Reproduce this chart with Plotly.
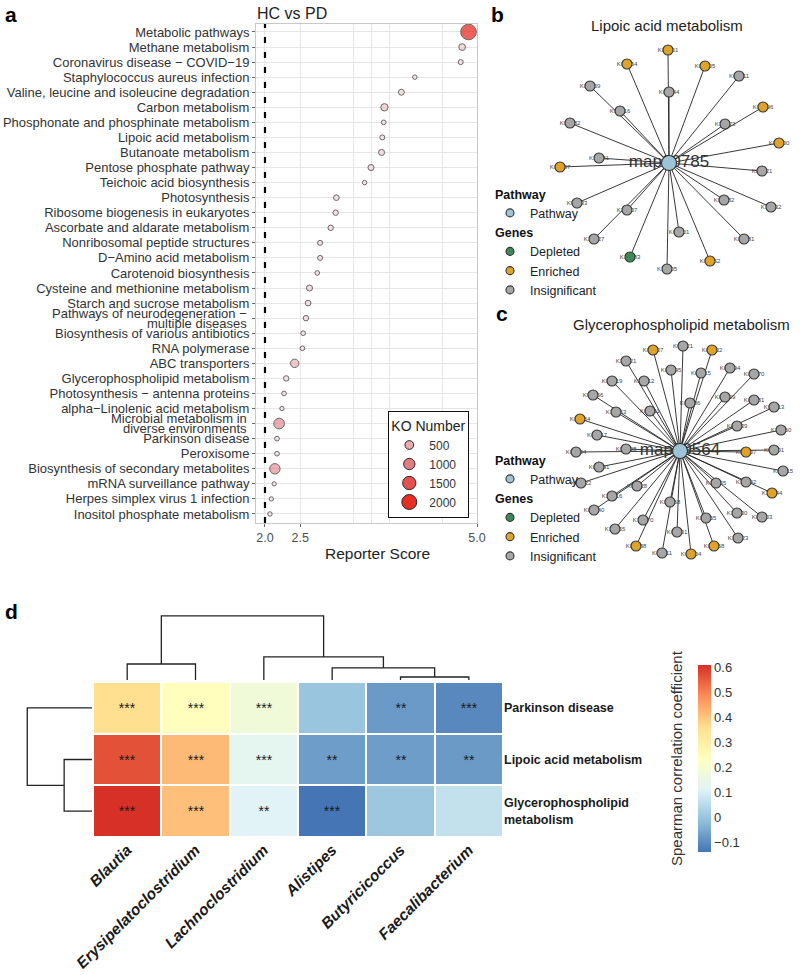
import numpy as np
import plotly.graph_objects as go
from plotly.colors import sample_colorscale

W, H = 800, 975
FONT = "Liberation Sans, Arial, Helvetica, sans-serif"

# ---------------- Panel a data ----------------
pathways = [
    "Metabolic pathways", "Methane metabolism", "Coronavirus disease − COVID−19",
    "Staphylococcus aureus infection", "Valine, leucine and isoleucine degradation",
    "Carbon metabolism", "Phosphonate and phosphinate metabolism", "Lipoic acid metabolism",
    "Butanoate metabolism", "Pentose phosphate pathway", "Teichoic acid biosynthesis",
    "Photosynthesis", "Ribosome biogenesis in eukaryotes", "Ascorbate and aldarate metabolism",
    "Nonribosomal peptide structures", "D−Amino acid metabolism", "Carotenoid biosynthesis",
    "Cysteine and methionine metabolism", "Starch and sucrose metabolism",
    "Pathways of neurodegeneration −<br>multiple diseases", "Biosynthesis of various antibiotics",
    "RNA polymerase", "ABC transporters", "Glycerophospholipid metabolism",
    "Photosynthesis − antenna proteins", "alpha−Linolenic acid metabolism",
    "Microbial metabolism in<br>diverse environments", "Parkinson disease", "Peroxisome",
    "Biosynthesis of secondary metabolites", "mRNA surveillance pathway",
    "Herpes simplex virus 1 infection", "Inositol phosphate metabolism",
]
reporter_scores = [4.88, 4.79, 4.77, 4.12, 3.93, 3.69, 3.68, 3.66, 3.65, 3.50, 3.41,
                   3.01, 3.00, 2.93, 2.78, 2.78, 2.74, 2.63, 2.61, 2.58, 2.54, 2.53,
                   2.42, 2.30, 2.27, 2.24, 2.20, 2.17, 2.17, 2.14, 2.13, 2.09, 2.07]
ko_numbers = [2200, 230, 80, 50, 150, 300, 60, 80, 160, 160, 50,
              130, 110, 110, 80, 80, 60, 160, 130, 110, 60, 60,
              450, 110, 60, 40, 850, 60, 60, 800, 40, 40, 50]
legend_ko = [500, 1000, 1500, 2000]
score_threshold = 2.0
x_tick_vals = [2.0, 2.5, 5.0]
x_tick_text = ["2.0", "2.5", "5.0"]
x_minor_grid = [3.25, 3.51, 3.76, 4.51]

# ---------------- Panel b data (Lipoic acid metabolism network) ----------------
lipoic_center = "map00785"
lipoic_ko = ["K00161", "K00164", "K00105", "K03811", "K00659", "K03644", "K09616", "K00396",
             "K00382", "K13623", "K00600", "K11381", "K00187", "K02621", "K00033", "K01582",
             "K16332", "K13107", "K14027", "K03801", "K01681", "K10783", "K00452", "K11205"]
lipoic_status = list("EEEIIIIEII" "EIEIIIIIII" "IDEI")
lipoic_layout_x = [-0.01, -0.42, 0.36, 0.70, -0.79, 0.00, -0.49, 0.94, -0.99, 0.56, 1.10, -0.70,
                   -1.09, 0.93, -0.92, 0.55, 1.02, -0.42, -0.75, 0.10, 0.75, -0.39, 0.41, -0.02]
lipoic_layout_y = [1.13, 0.99, 0.97, 0.87, 0.77, 0.71, 0.52, 0.56, 0.40, 0.39, 0.20, 0.05,
                   -0.04, -0.08, -0.40, -0.37, -0.44, -0.47, -0.76, -0.69, -0.76, -0.94, -0.98, -1.06]

# ---------------- Panel c data (Glycerophospholipid metabolism network) ----------------
glycero_center = "map00564"
glycero_ko = ["K00637", "K01121", "K00632", "K13621", "K00995", "K01115", "K06994", "K01770",
              "K00019", "K13512", "K00656", "K05929", "K00981", "K00006", "K01613", "K13663",
              "K00111", "K01054", "K00039", "K14160", "K00117", "K01094", "K00998", "K06007",
              "K01101", "K00891", "K00115", "K05922", "K01128", "K13765", "K10642", "K16744",
              "K13516", "K00968", "K01040", "K00655", "K14630", "K01003", "K14670", "K17555",
              "K06131", "K13223", "K01088", "K00058", "K01511", "K00004"]
glycero_status = list("EIEIIIIIII" "IIIIIIIEII" "IIIEIIIIII" "IEIIIIIIII" "IIEEIE")
glycero_layout_x = [-0.27, 0.03, 0.32, -0.54, -0.09, 0.21, 0.50, 0.74, -0.68, -0.36, -0.87, 0.45,
                    0.74, 0.10, 0.94, -0.64, -0.30, -1.00, 0.57, 1.01, -0.83, -1.04, -0.54, 0.66,
                    0.94, -0.81, 1.03, -0.99, -0.43, 0.36, 0.66, 0.92, -0.68, -0.10, -0.86, 0.26,
                    0.57, 0.82, -0.37, -0.65, -0.03, 0.58, -0.44, 0.34, -0.18, 0.11]
glycero_layout_y = [1.01, 1.05, 1.01, 0.90, 0.81, 0.78, 0.83, 0.77, 0.70, 0.70, 0.56, 0.54,
                    0.51, 0.48, 0.44, 0.39, 0.40, 0.32, 0.25, 0.21, 0.16, -0.01, 0.02, -0.01,
                    0.01, -0.16, -0.20, -0.32, -0.35, -0.32, -0.31, -0.42, -0.45, -0.51, -0.59, -0.67,
                    -0.62, -0.66, -0.69, -0.78, -0.81, -0.87, -0.95, -0.95, -1.02, -1.03]

status_names = {"D": "Depleted", "E": "Enriched", "I": "Insignificant"}

# ---------------- Panel d data (heatmap) ----------------
genera = ["Blautia", "Erysipelatoclostridium", "Lachnoclostridium",
          "Alistipes", "Butyricicoccus", "Faecalibacterium"]
features = ["Parkinson disease", "Lipoic acid metabolism", "Glycerophospholipid<br>metabolism"]
rho = [[0.36, 0.24, 0.18, 0.00, -0.077, -0.108],
       [0.566, 0.42, 0.13, -0.072, -0.072, -0.078],
       [0.611, 0.41, 0.115, -0.14, 0.004, 0.065]]
signif = [["***", "***", "***", "", "**", "***"],
          ["***", "***", "***", "**", "**", "**"],
          ["***", "***", "**", "***", "", ""]]
# hierarchical clustering merges: [left id, right id, height]; new cluster ids continue after leaves
col_merges = [[4, 5, 0.047], [3, 6, 0.19], [0, 1, 0.25], [2, 7, 0.36], [8, 9, 1.0]]
row_merges = [[1, 2, 0.43], [0, 3, 1.0]]
cbar_ticks = [-0.1, 0, 0.1, 0.2, 0.3, 0.4, 0.5, 0.6]

# ---------------- helpers ----------------
def px_x(p):
    return p / W

def px_y(p):
    return 1 - p / H

ko_scale = [[0, "#F6E3E5"], [0.227, "#EBAAAE"], [0.4545, "#E37C81"],
            [0.682, "#E5504F"], [0.909, "#E62E24"], [1, "#E8201A"]]
KO_MAX = 2200.0

def ko_colors(vals):
    return sample_colorscale(ko_scale, [min(v / KO_MAX, 1.0) for v in vals])

def ko_sizes(vals):
    return [2.5 + 12.5 * np.sqrt(v / 2000.0) for v in vals]

def dendro_segments(merges, n_leaves):
    pos = {i: float(i) for i in range(n_leaves)}
    hgt = {i: 0.0 for i in range(n_leaves)}
    p, h = [], []
    for k, (l, r, ht) in enumerate(merges):
        cid = n_leaves + k
        p += [pos[l], pos[l], pos[r], pos[r], None]
        h += [hgt[l], ht, ht, hgt[r], None]
        pos[cid] = (pos[l] + pos[r]) / 2.0
        hgt[cid] = ht
    return p, h

node_colors = {"Pathway": "#9DC3D6", "Depleted": "#3E8A57",
               "Enriched": "#E0A326", "Insignificant": "#A6A6A6"}

fig = go.Figure()

# ---------------- Panel a ----------------
fig.add_trace(go.Scatter(
    x=reporter_scores, y=pathways, mode="markers", xaxis="x", yaxis="y",
    marker=dict(size=ko_sizes(ko_numbers), color=ko_colors(ko_numbers),
                line=dict(color="#2a2a2a", width=1)),
    showlegend=False, cliponaxis=False, hoverinfo="x+y"))
for v, c, s in zip(legend_ko, ko_colors(legend_ko), ko_sizes(legend_ko)):
    fig.add_trace(go.Scatter(
        x=[None], y=[None], mode="markers", xaxis="x", yaxis="y", name=str(v),
        marker=dict(size=s, color=c, line=dict(color="#2a2a2a", width=1)),
        legend="legend", showlegend=True))

fig.add_shape(type="line", xref="x", yref="y domain", x0=score_threshold, x1=score_threshold,
              y0=0, y1=1, line=dict(color="black", width=2.2, dash="6px,9px"), layer="above")

# ---------------- Network panels ----------------
def add_network(xs, ys, kos, status, center, xa, ya, legend_name):
    ex, ey = [], []
    for x, y in zip(xs, ys):
        ex += [0, x, None]
        ey += [0, y, None]
    fig.add_trace(go.Scatter(x=ex, y=ey, mode="lines", xaxis=xa, yaxis=ya,
                             line=dict(color="#222222", width=0.9),
                             showlegend=False, hoverinfo="skip"))
    fig.add_trace(go.Scatter(x=xs, y=ys, mode="text", text=kos, xaxis=xa, yaxis=ya,
                             textfont=dict(size=6, color="#444444", family=FONT),
                             showlegend=False, hoverinfo="skip", cliponaxis=False))
    fig.add_trace(go.Scatter(x=[0], y=[0], mode="text", text=[center], xaxis=xa, yaxis=ya,
                             textfont=dict(size=17, color="#333333", family=FONT),
                             showlegend=False, hoverinfo="skip", cliponaxis=False))
    for code in ["D", "E", "I"]:
        name = status_names[code]
        sx = [x for x, s in zip(xs, status) if s == code]
        sy = [y for y, s in zip(ys, status) if s == code]
        if sx:
            fig.add_trace(go.Scatter(
                x=sx, y=sy, mode="markers", xaxis=xa, yaxis=ya, showlegend=False,
                marker=dict(size=10, color=node_colors[name], line=dict(color="#333333", width=1.1)),
                cliponaxis=False, hoverinfo="text",
                text=[k for k, s in zip(kos, status) if s == code]))
    fig.add_trace(go.Scatter(
        x=[0], y=[0], mode="markers", xaxis=xa, yaxis=ya, showlegend=False,
        marker=dict(size=15, color=node_colors["Pathway"], line=dict(color="#333333", width=1.1)),
        cliponaxis=False, hoverinfo="skip"))
    # legend entries
    groups = [("pathway", "<b>Pathway</b>", "Pathway")] + \
             [("genes", "<b>Genes</b>", status_names[c]) for c in ["D", "E", "I"]]
    for rank, (grp, title, name) in enumerate(groups):
        fig.add_trace(go.Scatter(
            x=[None], y=[None], mode="markers", xaxis=xa, yaxis=ya, name=name,
            legend=legend_name, legendgroup=grp, legendgrouptitle=dict(text=title),
            legendrank=rank + 1,
            marker=dict(size=8, color=node_colors[name], line=dict(color="#333333", width=1.1))))

add_network(lipoic_layout_x, lipoic_layout_y, lipoic_ko, lipoic_status, lipoic_center,
            "x2", "y2", "legend2")
add_network(glycero_layout_x, glycero_layout_y, glycero_ko, glycero_status, glycero_center,
            "x3", "y3", "legend3")

# ---------------- Panel d ----------------
pheat_scale = [[0, "#4575B4"], [1 / 6, "#91BFDB"], [2 / 6, "#E0F3F8"], [3 / 6, "#FFFFBF"],
               [4 / 6, "#FEE090"], [5 / 6, "#FC8D59"], [1, "#D73027"]]
zmin = float(np.min(rho))
zmax = float(np.max(rho))
fig.add_trace(go.Heatmap(
    z=rho, x=list(range(len(genera))), y=list(range(len(features))), text=signif,
    texttemplate="%{text}", textfont=dict(size=14, color="#1a1a1a", family=FONT),
    colorscale=pheat_scale, zmin=zmin, zmax=zmax, xgap=2, ygap=2,
    xaxis="x4", yaxis="y4", hoverinfo="z",
    colorbar=dict(x=px_x(698), xanchor="left", y=px_y(758.5), yanchor="middle",
                  len=187 / H, lenmode="fraction", thickness=13, thicknessmode="pixels",
                  tickvals=cbar_ticks, ticks="", outlinewidth=0, xpad=0, ypad=0,
                  tickfont=dict(size=13, color="#333333", family=FONT))))

cp, ch = dendro_segments(col_merges, len(genera))
fig.add_trace(go.Scatter(x=cp, y=ch, mode="lines", xaxis="x5", yaxis="y5",
                         line=dict(color="#222222", width=1.3), showlegend=False,
                         hoverinfo="skip", cliponaxis=False))
rp, rh = dendro_segments(row_merges, len(features))
fig.add_trace(go.Scatter(x=rh, y=rp, mode="lines", xaxis="x6", yaxis="y6",
                         line=dict(color="#222222", width=1.3), showlegend=False,
                         hoverinfo="skip", cliponaxis=False))

# ---------------- Layout ----------------
grid = "#E6E6E6"
border = "#C8C8C8"
hidden = dict(visible=False, showgrid=False, zeroline=False, automargin=False)

# y tick labels of panel a: single-line names as tick labels, wrapped names as tight annotations
y_ticktext = [p if "<br>" not in p else "" for p in pathways]

fig.update_layout(
    width=W, height=H, margin=dict(l=0, r=0, t=0, b=0, autoexpand=False),
    paper_bgcolor="white", plot_bgcolor="white",
    font=dict(family=FONT, color="#333333"),
    xaxis=dict(domain=[px_x(256), px_x(477)], range=[1.873, 5.0], anchor="y",
               tickmode="array", tickvals=x_tick_vals, ticktext=x_tick_text,
               showgrid=True, gridcolor=grid, gridwidth=1,
               minor=dict(tickmode="array", tickvals=x_minor_grid, showgrid=True,
                          gridcolor=grid, ticklen=0),
               showline=True, mirror=True, linecolor=border, linewidth=1,
               ticks="outside", ticklen=3, tickcolor="#666666", automargin=False,
               tickfont=dict(size=12.5, color="#4D4D4D"), zeroline=False),
    yaxis=dict(domain=[px_y(523), px_y(24)], anchor="x", type="category",
               categoryorder="array", categoryarray=pathways, range=[32.6, -0.53],
               tickmode="array", tickvals=pathways, ticktext=y_ticktext,
               showgrid=True, gridcolor=grid, gridwidth=1,
               showline=True, mirror=True, linecolor=border, linewidth=1,
               ticks="outside", ticklen=3, tickcolor="#666666", automargin=False,
               tickfont=dict(size=13, color="#333333"), zeroline=False),
    xaxis2=dict(domain=[px_x(530), px_x(800)], range=[-1.39, 1.31], anchor="y2", **hidden),
    yaxis2=dict(domain=[px_y(285), px_y(35)], range=[-1.22, 1.28], anchor="x2", **hidden),
    xaxis3=dict(domain=[px_x(530), px_x(800)], range=[-1.50, 1.20], anchor="y3", **hidden),
    yaxis3=dict(domain=[px_y(570), px_y(330)], range=[-1.19, 1.21], anchor="x3", **hidden),
    xaxis4=dict(domain=[px_x(93), px_x(503)], range=[-0.5, 5.5], anchor="y4",
                tickmode="array", tickvals=list(range(len(genera))),
                ticktext=[f"<b><i>{g}</i></b>" for g in genera], tickangle=-45,
                tickfont=dict(size=15.5, color="#1a1a1a"), ticks="", showgrid=False,
                zeroline=False, showline=False, automargin=False),
    yaxis4=dict(domain=[px_y(837), px_y(682)], range=[2.5, -0.5], anchor="x4", side="right",
                tickmode="array", tickvals=list(range(len(features))),
                ticktext=[f"<b>{f}</b>" for f in features],
                tickfont=dict(size=12.5, color="#1a1a1a"), ticks="", showgrid=False,
                zeroline=False, showline=False, automargin=False),
    xaxis5=dict(domain=[px_x(93), px_x(503)], range=[-0.5, 5.5], anchor="y5", **hidden),
    yaxis5=dict(domain=[px_y(680), px_y(614)], range=[0, 1.03], anchor="x5", **hidden),
    xaxis6=dict(domain=[px_x(24), px_x(92)], range=[1.05, 0], anchor="y6", **hidden),
    yaxis6=dict(domain=[px_y(837), px_y(682)], range=[2.5, -0.5], anchor="x6", **hidden),
    legend=dict(x=px_x(388), y=px_y(411), xanchor="left", yanchor="top",
                bgcolor="white", bordercolor="#111111", borderwidth=1.3,
                title=dict(text="KO Number", font=dict(size=14, color="#222222")),
                font=dict(size=12, color="#333333"), itemsizing="trace",
                tracegroupgap=0),
    legend2=dict(x=px_x(490), y=px_y(179), xanchor="left", yanchor="top",
                 bgcolor="rgba(255,255,255,0)", traceorder="grouped", tracegroupgap=0,
                 font=dict(size=12.5, color="#222222"), itemsizing="trace",
                 grouptitlefont=dict(size=12.5, color="#111111")),
    legend3=dict(x=px_x(490), y=px_y(445), xanchor="left", yanchor="top",
                 bgcolor="rgba(255,255,255,0)", traceorder="grouped", tracegroupgap=0,
                 font=dict(size=12.5, color="#222222"), itemsizing="trace",
                 grouptitlefont=dict(size=12.5, color="#111111")),
)

annos = [
    dict(text="<b>a</b>", x=px_x(3), y=px_y(1), xanchor="left", yanchor="top",
         font=dict(size=21, color="black")),
    dict(text="<b>b</b>", x=px_x(489), y=px_y(1), xanchor="left", yanchor="top",
         font=dict(size=21, color="black")),
    dict(text="<b>c</b>", x=px_x(494), y=px_y(300), xanchor="left", yanchor="top",
         font=dict(size=21, color="black")),
    dict(text="<b>d</b>", x=px_x(3), y=px_y(598), xanchor="left", yanchor="top",
         font=dict(size=21, color="black")),
    dict(text="HC vs PD", x=px_x(255), y=px_y(3), xanchor="left", yanchor="top",
         font=dict(size=16, color="#222222")),
    dict(text="Reporter Score", x=px_x(377), y=px_y(553), xanchor="center", yanchor="middle",
         font=dict(size=15.5, color="#222222")),
    dict(text="Lipoic acid metabolism", x=px_x(667), y=px_y(25), xanchor="center",
         yanchor="middle", font=dict(size=15, color="#222222")),
    dict(text="Glycerophospholipid metabolism", x=px_x(681), y=px_y(325), xanchor="center",
         yanchor="middle", font=dict(size=15, color="#222222")),
    dict(text="Spearman correlation coefficient", x=px_x(676), y=px_y(758), textangle=-90,
         xanchor="center", yanchor="middle", font=dict(size=15, color="#333333")),
]
for a in annos:
    fig.add_annotation(xref="paper", yref="paper", showarrow=False, **a)

# wrapped pathway names: two tightly spaced lines
for p in pathways:
    if "<br>" in p:
        lines = p.split("<br>")
        for j, ln in enumerate(lines):
            fig.add_annotation(xref="paper", yref="y", x=px_x(249), y=p, text=ln,
                               xanchor="right", yanchor="middle", showarrow=False,
                               yshift=5 - 10 * j, font=dict(size=13, color="#333333"))

fig.write_html("out.html", config={"displayModeBar": False},
               post_script="document.body.style.margin='0px';"
                           "document.body.style.overflow='hidden';")
